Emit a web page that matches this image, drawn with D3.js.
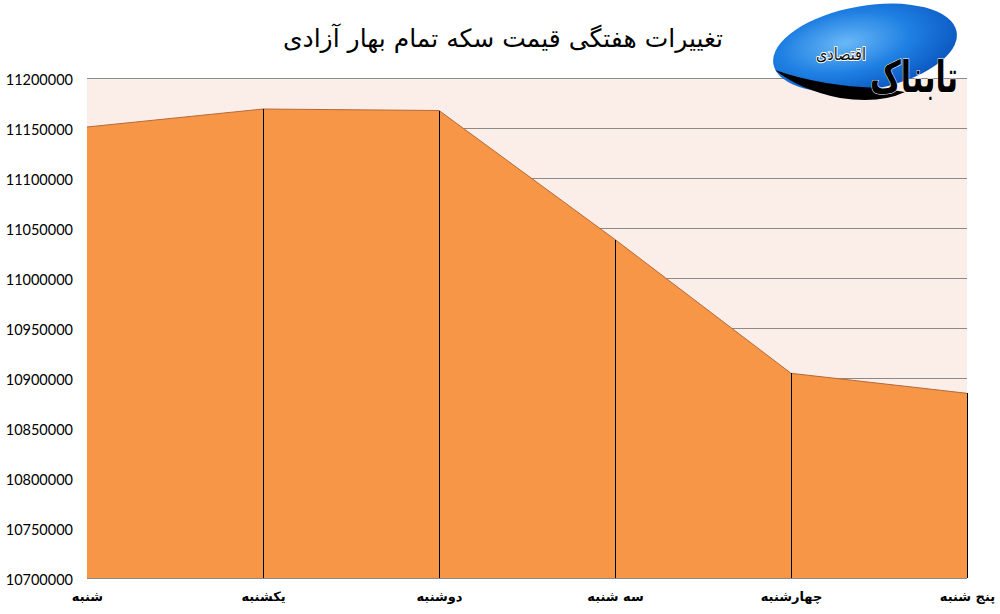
<!DOCTYPE html>
<html><head><meta charset="utf-8">
<script src="https://cdn.jsdelivr.net/npm/d3@7"></script>
<style>body{margin:0;background:#fff}svg{display:block}</style>
</head><body><svg id="c" width="1000" height="614"></svg>
<script>
const categories = ["شنبه","یکشنبه","دوشنبه","سه شنبه","چهارشنبه","پنج شنبه"];
const values = [11151000, 11169000, 11167500, 11038500, 10904700, 10884700];
const yTicks = [10700000,10750000,10800000,10850000,10900000,10950000,11000000,11050000,11100000,11150000,11200000];
const title = "تغییرات هفتگی قیمت سکه تمام بهار آزادی";

const svg = d3.select("#c");
const L=87,R=967,T=78,B=578;
const x = d3.scalePoint().domain(categories).range([L,R]);
const y = d3.scaleLinear().domain([10700000,11200000]).range([B,T]);

svg.append("rect").attr("x",L).attr("y",T).attr("width",R-L).attr("height",B-T).attr("fill","#FBEEE9");
svg.append("g").selectAll("line").data(yTicks).join("line")
  .attr("x1",L).attr("x2",R).attr("y1",d=>y(d)).attr("y2",d=>y(d))
  .attr("stroke","#8a8a8a").attr("stroke-width",1).attr("shape-rendering","crispEdges");

const data = categories.map((c,i)=>({c,v:values[i]}));
const area = d3.area().x(d=>x(d.c)).y0(B).y1(d=>y(d.v));
svg.append("path").datum(data).attr("d",area).attr("fill","#F79646");
svg.append("path").datum(data).attr("d",d3.line().x(d=>x(d.c)).y(d=>y(d.v)))
  .attr("fill","none").attr("stroke","#B56A3A").attr("stroke-width",1);
svg.append("g").selectAll("line").data(data.slice(1)).join("line")
  .attr("x1",d=>x(d.c)).attr("x2",d=>x(d.c)).attr("y1",d=>y(d.v)).attr("y2",B)
  .attr("stroke","#000").attr("stroke-width",1).attr("shape-rendering","crispEdges");

const yAxis = d3.axisLeft(y).tickValues(yTicks).tickSize(0).tickPadding(14).tickFormat(d3.format("d"));
const ga = svg.append("g").attr("transform",`translate(${L},0)`).call(yAxis);
ga.select(".domain").remove();
ga.selectAll("text").attr("font-family","Lato, 'Open Sans', sans-serif").attr("font-size","14.5px").attr("fill","#000").attr("dy","0.45em");

const xAxis = d3.axisBottom(x).tickSize(0).tickPadding(14);
const gx = svg.append("g").attr("transform",`translate(0,${B})`).call(xAxis);
gx.select(".domain").remove();
gx.selectAll("text").attr("font-family","'DejaVu Sans', sans-serif").attr("font-weight","bold").attr("font-size","13px").attr("fill","#000").attr("direction","rtl");

svg.append("text").attr("x",503).attr("y",47).attr("text-anchor","middle").attr("direction","rtl")
  .attr("font-family","'DejaVu Sans', sans-serif").attr("font-size","25px").attr("fill","#000").text(title);

// logo
const defs = svg.append("defs");
const g1 = defs.append("radialGradient").attr("id","lg").attr("cx","40%").attr("cy","40%").attr("r","65%");
g1.append("stop").attr("offset","0%").attr("stop-color","#6ab8f7");
g1.append("stop").attr("offset","55%").attr("stop-color","#1e7fe2");
g1.append("stop").attr("offset","100%").attr("stop-color","#0b57c0");
const logo = svg.append("g");
logo.append("ellipse").attr("cx",865).attr("cy",48).attr("rx",93).attr("ry",42)
  .attr("transform","rotate(-10,865,48)").attr("fill","url(#lg)");
logo.append("path").attr("d","M775,70 Q820,86 880,88 L905,92 Q880,104 840,98 Q800,90 775,70Z").attr("fill","#000");
logo.append("text").attr("x",958).attr("y",92).attr("text-anchor","end")
  .attr("textLength",88).attr("lengthAdjust","spacingAndGlyphs")
  .attr("font-family","'DejaVu Sans', sans-serif").attr("font-weight","bold").attr("font-size","44px")
  .attr("fill","#000").attr("stroke","#fff").attr("stroke-width",1.2).attr("paint-order","stroke").text("تابناک");
logo.append("text").attr("x",866).attr("y",60).attr("text-anchor","end")
  .attr("textLength",50).attr("lengthAdjust","spacingAndGlyphs")
  .attr("font-family","'DejaVu Sans', sans-serif").attr("font-size","17px")
  .attr("fill","#111").attr("stroke","#fff").attr("stroke-width",2).attr("paint-order","stroke").text("اقتصادی");
</script></body></html>
